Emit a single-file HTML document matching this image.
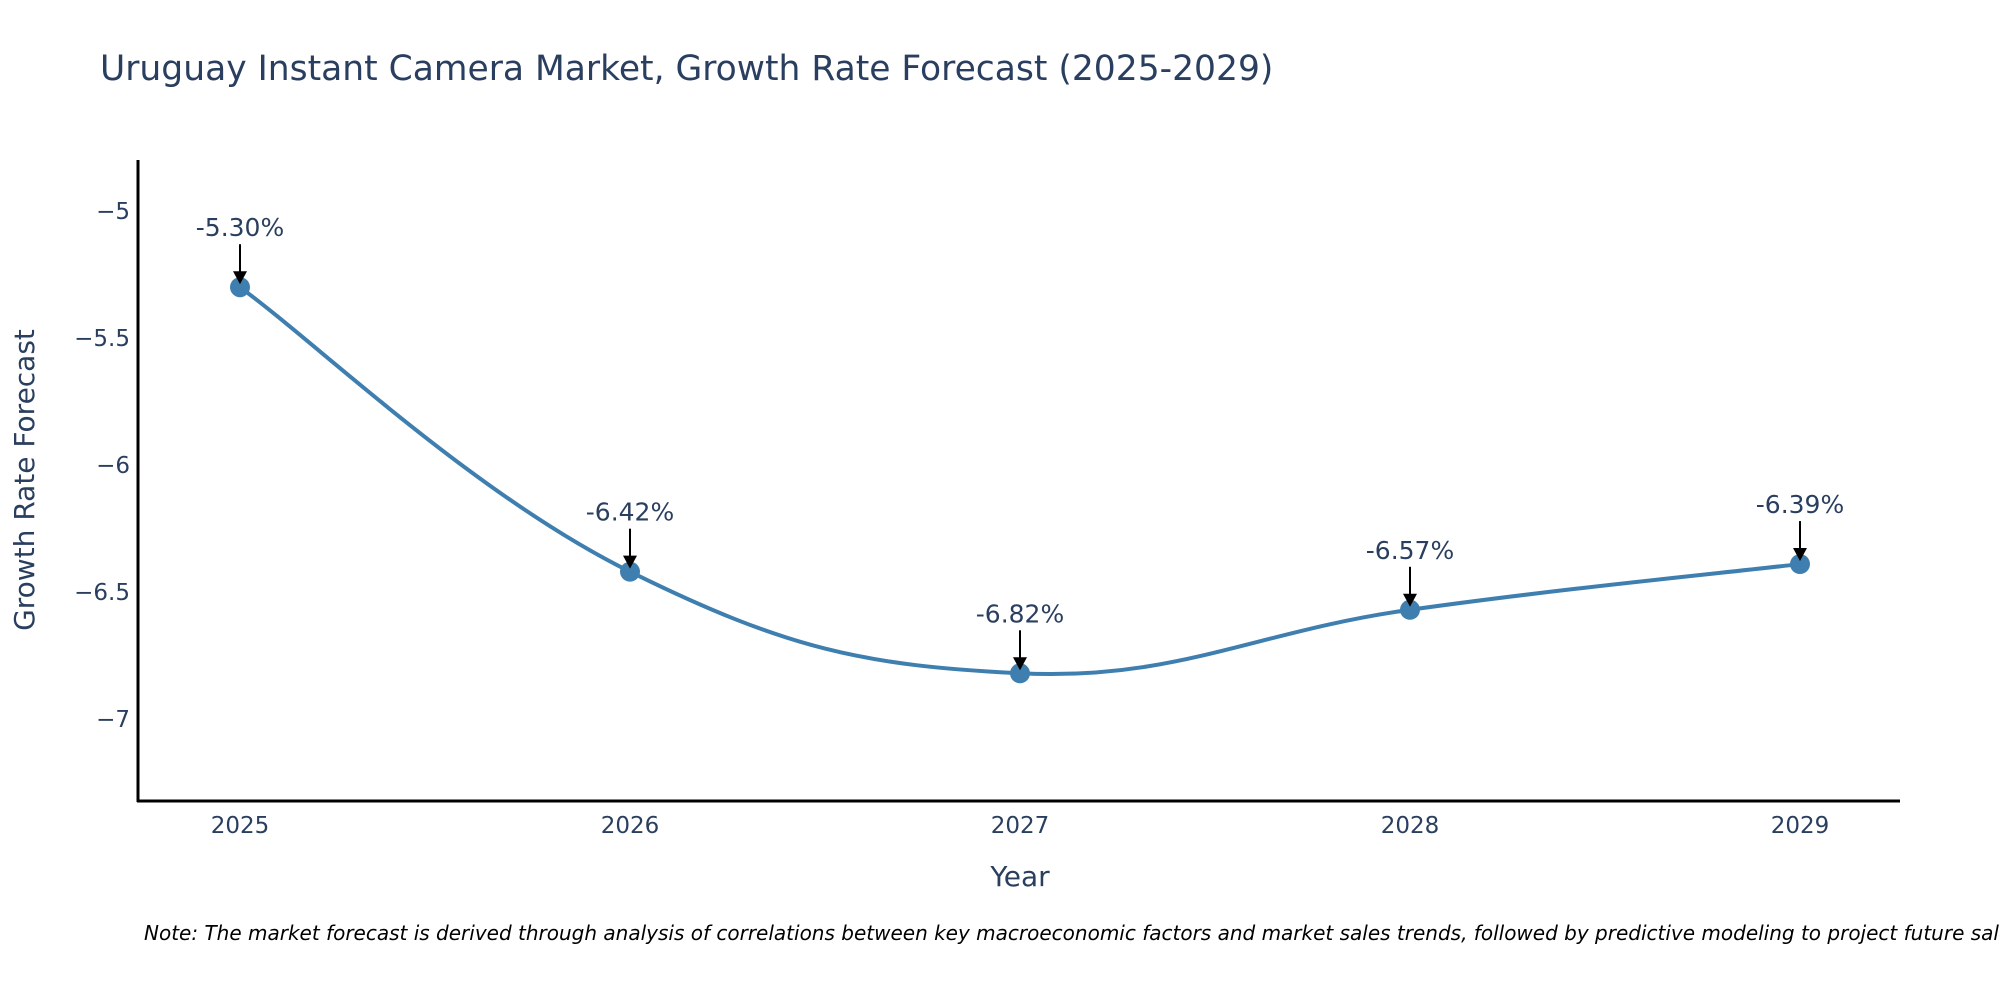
<!DOCTYPE html>
<html><head><meta charset="utf-8"><style>
html,body{margin:0;padding:0;background:#fff;}
svg{display:block;font-family:"DejaVu Sans","Liberation Sans",sans-serif;}
</style></head><body>
<svg id="chart" width="2000" height="1000" viewBox="0 0 2000 1000">
<text x="100" y="80" font-size="34.5" fill="#2a3f5f">Uruguay Instant Camera Market, Growth Rate Forecast (2025-2029)</text>
<g id="yticks"></g>
<g id="xticks"></g>
<g id="series"></g>
<g id="annots"></g>
<line x1="138" y1="160" x2="138" y2="802" stroke="#000" stroke-width="3"/>
<line x1="137" y1="801" x2="1900" y2="801" stroke="#000" stroke-width="3"/>
<text transform="translate(34,480) rotate(-90)" text-anchor="middle" font-size="28" fill="#2a3f5f">Growth Rate Forecast</text>
<text x="1020" y="886" text-anchor="middle" font-size="28" fill="#2a3f5f">Year</text>
<text x="144" y="940" font-size="20" font-style="italic" fill="#000">Note: The market forecast is derived through analysis of correlations between key macroeconomic factors and market sales trends, followed by predictive modeling to project future sales.</text>
</svg>
<script>
const years = [2025, 2026, 2027, 2028, 2029];
const growth = [-5.30, -6.42, -6.82, -6.57, -6.39];
const labels = ["-5.30%", "-6.42%", "-6.82%", "-6.57%", "-6.39%"];
const yTickVals = [-5, -5.5, -6, -6.5, -7];
const yTickLabels = ["\u22125", "\u22125.5", "\u22126", "\u22126.5", "\u22127"];

const NS = "http://www.w3.org/2000/svg";
function xs(v){ return 240 + (v - 2025) * 390; }
function ys(v){ return 211 + (-5 - v) * 254; }
function mk(tag, attrs, parent){ const e = document.createElementNS(NS, tag); for (const k in attrs) e.setAttribute(k, attrs[k]); parent.appendChild(e); return e; }

const yg = document.getElementById('yticks');
yTickVals.forEach((v, i) => {
  const t = mk('text', {x: 130, y: ys(v) + 8, 'text-anchor': 'end', 'font-size': 23, fill: '#2a3f5f'}, yg);
  t.textContent = yTickLabels[i];
  
  
});
const xg = document.getElementById('xticks');
years.forEach(y => {
  const t = mk('text', {x: xs(y), y: 833, 'text-anchor': 'middle', 'font-size': 23, fill: '#2a3f5f'}, xg);
  t.textContent = String(y);
  
  
});

const pts = years.map((y, i) => [xs(y), ys(growth[i])]);
let d = `M${pts[0][0]},${pts[0][1]}`;
const s = 0.2;
for (let i = 0; i < pts.length - 1; i++) {
  const p0 = pts[Math.max(0, i - 1)], p1 = pts[i], p2 = pts[i + 1], p3 = pts[Math.min(pts.length - 1, i + 2)];
  const c1 = [p1[0] + (p2[0] - p0[0]) * s, p1[1] + (p2[1] - p0[1]) * s];
  const c2 = [p2[0] - (p3[0] - p1[0]) * s, p2[1] - (p3[1] - p1[1]) * s];
  d += ` C${c1[0]},${c1[1]} ${c2[0]},${c2[1]} ${p2[0]},${p2[1]}`;
}
const sg = document.getElementById('series');
const line = mk('path', {d: d, fill: 'none', stroke: '#3f7fb0', 'stroke-width': 4}, sg);


pts.forEach(p => {
  const c = mk('circle', {cx: p[0], cy: p[1], r: 10, fill: '#3f7fb0'}, sg);
  
  
});

const ag = document.getElementById('annots');
pts.forEach((p, i) => {
  const t = mk('text', {x: p[0], y: p[1] - 51, 'text-anchor': 'middle', 'font-size': 25, fill: '#2a3f5f'}, ag);
  t.textContent = labels[i];
  
  
  const l = mk('line', {x1: p[0], y1: p[1] - 43, x2: p[0], y2: p[1] - 14, stroke: '#000', 'stroke-width': 2}, ag);
  
  
  const h = mk('polygon', {points: `${p[0]-7},${p[1]-16} ${p[0]+7},${p[1]-16} ${p[0]},${p[1]-3}`, fill: '#000'}, ag);
  
  
});
</script>
</body></html>
